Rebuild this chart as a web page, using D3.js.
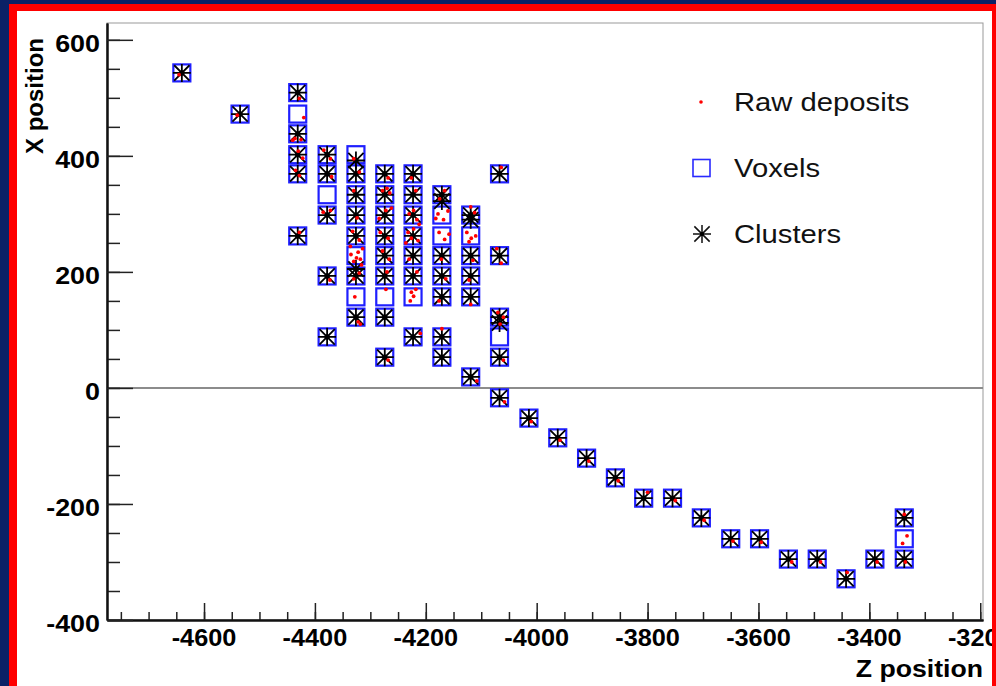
<!DOCTYPE html>
<html>
<head>
<meta charset="utf-8">
<script src="https://cdn.jsdelivr.net/npm/d3@7"></script>
<style>
  html, body { margin: 0; padding: 0; background: #fff; }
  svg { display: block; font-family: "Liberation Sans", Arial, sans-serif; }
</style>
</head>
<body>
<svg id="chart" width="996" height="686"></svg>
<script>
// Voxel centres [Z, X]
const voxels = [
  [-4640, 543],
  [-4535, 472],
  [-4431, 509], [-4431, 472], [-4431, 438], [-4431, 402], [-4431, 369], [-4431, 262],
  [-4378, 402], [-4378, 369], [-4378, 333], [-4378, 298], [-4378, 193], [-4378, 88],
  [-4326, 402], [-4326, 369], [-4326, 333], [-4326, 298], [-4326, 262], [-4326, 228], [-4326, 193], [-4326, 157], [-4326, 122],
  [-4274, 369], [-4274, 333], [-4274, 298], [-4274, 262], [-4274, 228], [-4274, 193], [-4274, 157], [-4274, 122], [-4274, 53],
  [-4223, 369], [-4223, 333], [-4223, 298], [-4223, 262], [-4223, 228], [-4223, 193], [-4223, 157], [-4223, 88],
  [-4171, 333], [-4171, 298], [-4171, 262], [-4171, 228], [-4171, 193], [-4171, 157], [-4171, 88], [-4171, 53],
  [-4119, 298], [-4119, 262], [-4119, 228], [-4119, 193], [-4119, 157], [-4119, 19],
  [-4067, 369], [-4067, 228], [-4067, 122], [-4067, 88], [-4067, 53], [-4067, -17],
  [-4014, -52], [-3962, -86], [-3910, -121], [-3858, -155], [-3807, -190], [-3755, -190],
  [-3703, -224], [-3650, -260], [-3598, -260], [-3546, -295], [-3494, -295], [-3442, -329],
  [-3390, -295], [-3337, -224], [-3337, -260], [-3337, -295]
];

// Cluster positions [Z, X]
const clusters = [
  [-4640, 543],
  [-4535, 472],
  [-4431, 509], [-4431, 438], [-4431, 402], [-4431, 369], [-4431, 262],
  [-4378, 402], [-4378, 369], [-4378, 298], [-4378, 193], [-4378, 88],
  [-4326, 392], [-4326, 369], [-4326, 333], [-4326, 298], [-4326, 262], [-4326, 205], [-4326, 193], [-4326, 122],
  [-4274, 369], [-4274, 333], [-4274, 298], [-4274, 262], [-4274, 228], [-4274, 193], [-4274, 122], [-4274, 53],
  [-4223, 369], [-4223, 333], [-4223, 298], [-4223, 262], [-4223, 228], [-4223, 193], [-4223, 88],
  [-4171, 333], [-4171, 322], [-4171, 228], [-4171, 193], [-4171, 157], [-4171, 88], [-4171, 53],
  [-4119, 298], [-4119, 290], [-4119, 228], [-4119, 193], [-4119, 157], [-4119, 19],
  [-4067, 369], [-4067, 228], [-4067, 122], [-4067, 112], [-4067, 53], [-4067, -17],
  [-4014, -52], [-3962, -86], [-3910, -121], [-3858, -155], [-3807, -190], [-3755, -190],
  [-3703, -224], [-3650, -260], [-3598, -260], [-3546, -295], [-3494, -295], [-3442, -329],
  [-3390, -295], [-3337, -224], [-3337, -295]
];

// Raw energy deposits [Z, X]
const deposits = [
  [-4645, 540], [-4540, 470],
  [-4428, 499], [-4420, 466], [-4436, 430], [-4425, 428], [-4440, 427], [-4430, 408], [-4422, 396],
  [-4435, 375], [-4428, 366], [-4428, 268],
  [-4384, 410], [-4372, 395], [-4370, 364], [-4372, 306], [-4385, 303], [-4373, 186],
  [-4330, 395], [-4320, 372], [-4330, 340], [-4324, 293], [-4332, 270], [-4320, 255],
  [-4335, 230], [-4325, 224], [-4318, 222], [-4330, 218], [-4322, 234], [-4320, 198], [-4330, 188],
  [-4328, 157], [-4322, 114], [-4318, 110], [-4336, 244], [-4314, 240], [-4316, 212],
  [-4268, 362], [-4278, 340], [-4270, 344], [-4265, 336], [-4272, 306], [-4282, 268], [-4268, 258],
  [-4278, 236], [-4266, 222], [-4270, 200], [-4272, 170], [-4268, 48], [-4262, 310], [-4284, 292],
  [-4226, 362], [-4218, 340], [-4230, 300], [-4216, 290], [-4222, 306], [-4232, 268], [-4226, 258],
  [-4214, 254], [-4222, 274], [-4230, 222], [-4216, 200], [-4226, 165], [-4222, 158], [-4228, 150],
  [-4218, 170], [-4210, 94], [-4236, 250], [-4212, 282],
  [-4166, 340], [-4175, 326], [-4178, 300], [-4160, 305], [-4176, 268], [-4166, 256], [-4158, 265],
  [-4172, 222], [-4164, 188], [-4176, 150], [-4171, 102], [-4182, 292], [-4168, 290],
  [-4119, 312], [-4112, 302], [-4126, 268], [-4118, 258], [-4110, 262], [-4122, 252], [-4115, 220],
  [-4122, 186], [-4119, 144], [-4108, 12],
  [-4064, 380], [-4072, 240], [-4064, 215], [-4070, 130], [-4060, 122], [-4066, 110], [-4060, 48], [-4058, -24],
  [-4010, -58], [-3958, -90], [-3906, -126], [-3853, -160], [-3800, -180], [-3750, -194], [-3698, -228],
  [-3646, -264], [-3595, -266], [-3540, -300], [-3488, -300], [-3440, -318], [-3386, -300],
  [-3337, -218], [-3332, -255], [-3340, -268], [-3335, -300]
];

const xTicks = [-4600, -4400, -4200, -4000, -3800, -3600, -3400, -3200];
const yTicks = [-400, -200, 0, 200, 400, 600];
const legendItems = ['Raw deposits', 'Voxels', 'Clusters'];

const svg = d3.select('#chart');
const padLeft = 107, padRight = 983, padTop = 23, padBottom = 620;

const x = d3.scaleLinear().domain([-4775, -3195]).range([padLeft, padRight]);
const y = d3.scaleLinear().domain([-400, 629]).range([padBottom, padTop]);

// plot frame
svg.append('rect')
  .attr('x', padLeft).attr('y', padTop)
  .attr('width', padRight - padLeft).attr('height', padBottom - padTop)
  .attr('fill', 'none').attr('stroke', '#999').attr('stroke-width', 1);

// zero line
svg.append('line')
  .attr('x1', padLeft).attr('x2', padRight)
  .attr('y1', y(0)).attr('y2', y(0))
  .attr('stroke', '#8c8c8c').attr('stroke-width', 2);

// axes, ticks drawn inside the frame
const gx = svg.append('g').attr('transform', `translate(0,${padBottom})`);
gx.call(d3.axisBottom(x).tickValues(d3.range(-4750, -3195, 50)).tickSize(-8).tickSizeOuter(0).tickFormat(''));
gx.append('g').call(d3.axisBottom(x).tickValues(xTicks).tickSize(-17).tickSizeOuter(0).tickFormat(''));

const gy = svg.append('g').attr('transform', `translate(${padLeft},0)`);
gy.call(d3.axisLeft(y).tickValues(d3.range(-400, 629, 50)).tickSize(-13).tickSizeOuter(0).tickFormat(''));
gy.append('g').call(d3.axisLeft(y).tickValues(yTicks).tickSize(-26).tickSizeOuter(0).tickFormat(''));

svg.selectAll('.domain').attr('stroke', '#111').attr('stroke-width', 2);
svg.selectAll('.tick line').attr('stroke', '#222').attr('stroke-width', 1.5);

// tick labels
xTicks.forEach(v => {
  svg.append('text')
    .attr('transform', `translate(${x(v)},646) scale(1.1,1)`)
    .attr('text-anchor', 'middle')
    .attr('font-size', 23).attr('font-weight', 'bold')
    .text(v);
});
yTicks.forEach(v => {
  svg.append('text')
    .attr('transform', `translate(100,${y(v) + 12}) scale(1.12,1)`)
    .attr('text-anchor', 'end')
    .attr('font-size', 24).attr('font-weight', 'bold')
    .text(v);
});

// axis titles
svg.append('text')
  .attr('transform', 'translate(983,677) scale(1.11,1)')
  .attr('text-anchor', 'end')
  .attr('font-size', 24).attr('font-weight', 'bold')
  .text('Z position');
svg.append('text')
  .attr('transform', 'translate(43,38) rotate(-90)')
  .attr('text-anchor', 'end')
  .attr('font-size', 24).attr('font-weight', 'bold')
  .text('X position');

// markers
const half = 8.5;
const starPath = (s) => `M${-s},0H${s}M0,${-s}V${s}M${-s * 0.85},${-s * 0.85}L${s * 0.85},${s * 0.85}M${-s * 0.85},${s * 0.85}L${s * 0.85},${-s * 0.85}`;

const plot = svg.append('g');

plot.selectAll('rect.voxel')
  .data(voxels)
  .join('rect')
  .attr('class', 'voxel')
  .attr('x', d => x(d[0]) - half)
  .attr('y', d => y(d[1]) - half)
  .attr('width', half * 2).attr('height', half * 2)
  .attr('fill', 'none')
  .attr('stroke', '#1f1fff').attr('stroke-width', 2.2);

const stars = plot.selectAll('g.cluster')
  .data(clusters)
  .join('g')
  .attr('class', 'cluster')
  .attr('transform', d => `translate(${x(d[0])},${y(d[1])})`);
stars.append('path')
  .attr('d', starPath(9))
  .attr('stroke', '#000').attr('stroke-width', 1.8)
  .attr('fill', 'none');
stars.append('circle').attr('r', 2.6).attr('fill', '#000');

plot.selectAll('circle.dep')
  .data(deposits)
  .join('circle')
  .attr('class', 'dep')
  .attr('cx', d => x(d[0]))
  .attr('cy', d => y(d[1]))
  .attr('r', 1.9)
  .attr('fill', '#ff0000');

// legend
const legend = svg.append('g');
const legendY = [102, 168, 234];
legendItems.forEach((name, i) => {
  legend.append('text')
    .attr('transform', `translate(734,${legendY[i] + 9}) scale(1.17,1)`)
    .attr('font-size', 25)
    .attr('fill', '#111')
    .text(name);
});
legend.append('circle').attr('cx', 701).attr('cy', legendY[0]).attr('r', 1.8).attr('fill', '#ff0000');
legend.append('rect')
  .attr('x', 693).attr('y', legendY[1] - 8.5).attr('width', 17).attr('height', 17)
  .attr('fill', 'none').attr('stroke', '#2a2aff').attr('stroke-width', 1.6);
legend.append('path')
  .attr('transform', `translate(702,${legendY[2]})`)
  .attr('d', starPath(9))
  .attr('stroke', '#111').attr('stroke-width', 1.5).attr('fill', 'none');
legend.append('circle').attr('cx', 702).attr('cy', legendY[2]).attr('r', 2).attr('fill', '#000');

// outer border of the slide
const W = 996, H = 686;
svg.append('rect').attr('x', 0).attr('y', 0).attr('width', 9).attr('height', H).attr('fill', '#0b2166');
svg.append('rect').attr('x', 0).attr('y', 0).attr('width', W).attr('height', 4).attr('fill', '#0b2166');
svg.append('rect').attr('x', 9).attr('y', 4).attr('width', 8).attr('height', H - 4).attr('fill', '#ff0000');
svg.append('rect').attr('x', 9).attr('y', 4).attr('width', W - 9).attr('height', 7).attr('fill', '#ff0000');
svg.append('rect').attr('x', 992).attr('y', 4).attr('width', 4).attr('height', H - 4).attr('fill', '#ff0000');
</script>
</body>
</html>
